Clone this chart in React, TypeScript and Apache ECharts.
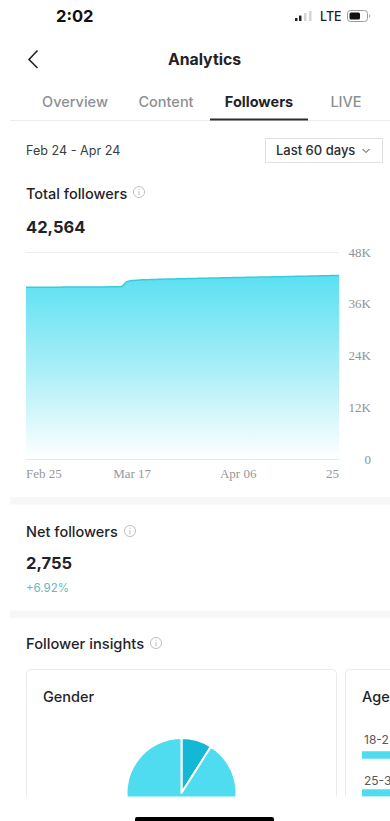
import React, { useEffect, useRef } from "react";
import * as echarts from "echarts";

const dayLabels = [
  "Feb 25", "Feb 26", "Feb 27", "Feb 28", "Mar 01", "Mar 02", "Mar 03", "Mar 04", "Mar 05", "Mar 06",
  "Mar 07", "Mar 08", "Mar 09", "Mar 10", "Mar 11", "Mar 12", "Mar 13", "Mar 14", "Mar 15", "Mar 16",
  "Mar 17", "Mar 18", "Mar 19", "Mar 20", "Mar 21", "Mar 22", "Mar 23", "Mar 24", "Mar 25", "Mar 26",
  "Mar 27", "Mar 28", "Mar 29", "Mar 30", "Mar 31", "Apr 01", "Apr 02", "Apr 03", "Apr 04", "Apr 05",
  "Apr 06", "Apr 07", "Apr 08", "Apr 09", "Apr 10", "Apr 11", "Apr 12", "Apr 13", "Apr 14", "Apr 15",
  "Apr 16", "Apr 17", "Apr 18", "Apr 19", "Apr 20", "Apr 21", "Apr 22", "Apr 23", "Apr 24", "Apr 25",
];

const totalFollowers = [
  39809, 39815, 39822, 39830, 39836, 39842, 39850, 39856, 39864, 39870,
  39878, 39884, 39890, 39897, 39905, 39912, 39920, 39930, 39990, 41150,
  41380, 41470, 41540, 41590, 41630, 41670, 41700, 41730, 41760, 41790,
  41820, 41850, 41875, 41900, 41930, 41955, 41985, 42010, 42035, 42060,
  42085, 42110, 42130, 42155, 42180, 42200, 42225, 42250, 42275, 42300,
  42325, 42350, 42375, 42400, 42425, 42450, 42480, 42510, 42540, 42564,
];

const shownDayLabels: Record<string, string> = {
  "Feb 25": "Feb 25",
  "Mar 17": "Mar 17",
  "Apr 06": "Apr 06",
  "Apr 25": "25",
};

const genderShares = [
  { name: "Female", value: 9 },
  { name: "Male", value: 91 },
];

const ageBands = ["18-2", "25-3"];
const ageShares = [44, 33];

const INK = "#1f2329";
const MUTED = "#8c8f93";
const RULE = "#ececec";
const BAND = "#f7f7f7";
const SANS = "Inter, 'Noto Sans', sans-serif";

const label = (
  text: string,
  x: number,
  y: number,
  size: number,
  weight: number,
  fill: string,
  textAlign = "left",
) => ({
  type: "text",
  z: 50,
  style: {
    text,
    x,
    y,
    fill,
    textAlign,
    textVerticalAlign: "middle",
    font: `${weight} ${size}px ${SANS}`,
  },
});

const infoIcon = (cx: number, cy: number) => ({
  type: "group",
  z: 50,
  children: [
    { type: "circle", shape: { cx, cy, r: 5.5 }, style: { fill: "none", stroke: "#b9bcbf", lineWidth: 1 } },
    { type: "line", shape: { x1: cx, y1: cy - 1, x2: cx, y2: cy + 3 }, style: { stroke: "#b9bcbf", lineWidth: 1 } },
    { type: "circle", shape: { cx, cy: cy - 2.8, r: 0.6 }, style: { fill: "#b9bcbf" } },
  ],
});

const hline = (x1: number, x2: number, y: number, stroke: string, lineWidth: number) => ({
  type: "line",
  z: 50,
  shape: { x1, y1: y, x2, y2: y },
  style: { stroke, lineWidth },
});

const rect = (x: number, y: number, width: number, height: number, style: object, r: any = 0, z = 1) => ({
  type: "rect",
  z,
  shape: { x, y, width, height, r },
  style,
});

export default function App() {
  const ref = useRef<HTMLDivElement>(null);

  useEffect(() => {
    document.body.style.margin = "0";
    document.body.style.background = "#fff";
    const chart = echarts.init(ref.current!, null, { renderer: "svg" });

    chart.setOption({
      animation: false,
      backgroundColor: "#ffffff",
      grid: [
        { left: 26, top: 252, width: 313, height: 207, containLabel: false },
        // the age bars run past the right edge of the page
        { left: 362, top: 736, width: 200, height: 76, outerBoundsMode: "none" },
      ],
      xAxis: [
        {
          type: "category",
          gridIndex: 0,
          data: dayLabels,
          boundaryGap: false,
          axisTick: { show: false },
          axisLine: { lineStyle: { color: "#e9e9e9", width: 1 } },
          axisLabel: {
            margin: 8,
            color: "#94979b",
            fontFamily: "'Liberation Serif', serif",
            fontSize: 13,
            hideOverlap: false,
            alignMinLabel: "left",
            alignMaxLabel: "right",
            interval: (_: number, value: string) => value in shownDayLabels,
            formatter: (value: string) => shownDayLabels[value] ?? "",
          },
        },
        {
          type: "value",
          gridIndex: 1,
          min: 0,
          max: 100,
          show: false,
        },
      ],
      yAxis: [
        {
          type: "value",
          gridIndex: 0,
          position: "right",
          min: 0,
          max: 48000,
          interval: 12000,
          axisLine: { show: false },
          axisTick: { show: false },
          splitLine: { lineStyle: { color: "#eeeeee", width: 1 } },
          axisLabel: {
            margin: 32,
            align: "right",
            color: "#8f9296",
            fontFamily: "'Liberation Serif', serif",
            fontSize: 13,
            formatter: (v: number) => (v === 0 ? "0" : `${v / 1000}K`),
          },
        },
        {
          type: "category",
          gridIndex: 1,
          data: ageBands,
          inverse: true,
          show: false,
        },
      ],
      series: [
        {
          type: "line",
          xAxisIndex: 0,
          yAxisIndex: 0,
          data: totalFollowers,
          smooth: 0.3,
          showSymbol: false,
          lineStyle: { color: "#38cadd", width: 1.5 },
          areaStyle: {
            opacity: 1,
            color: new echarts.graphic.LinearGradient(0, 0, 0, 1, [
              { offset: 0, color: "#5be0f2" },
              { offset: 0.5, color: "#a8eef7" },
              { offset: 1, color: "#ffffff" },
            ]),
          },
        },
        {
          type: "pie",
          center: [181.5, 793],
          radius: [0, 55],
          startAngle: 90,
          silent: true,
          label: { show: false },
          labelLine: { show: false },
          itemStyle: { borderColor: "#ffffff", borderWidth: 2 },
          data: [
            { ...genderShares[0], itemStyle: { color: "#14b7d4" } },
            { ...genderShares[1], itemStyle: { color: "#4fdcf0" } },
          ],
        },
        {
          type: "bar",
          xAxisIndex: 1,
          yAxisIndex: 1,
          data: ageShares,
          barWidth: 7.5,
          itemStyle: { color: "#4fdcf0" },
        },
      ],
      graphic: [
        // status bar
        label("2:02", 56, 16, 16.5, 700, "#111111"),
        rect(295, 18, 2.5, 3, { fill: "#222" }, 0.5),
        rect(299, 15.5, 2.5, 5.5, { fill: "#222" }, 0.5),
        rect(304, 13, 2.5, 8, { fill: "#d5d5d5" }, 0.5),
        rect(309, 11, 2.5, 10, { fill: "#d5d5d5" }, 0.5),
        label("LTE", 320, 16, 12.5, 500, "#222222"),
        rect(347.5, 10.5, 20, 11, { fill: "none", stroke: "#9a9a9a", lineWidth: 1 }, 3),
        rect(349.5, 12.5, 10.5, 7, { fill: "#111" }, 1.5),
        rect(369, 14.5, 1.2, 3, { fill: "#aaa" }, 0.5),

        // title row
        {
          type: "polyline",
          z: 50,
          shape: { points: [[37.5, 50.5], [29, 59.5], [37.5, 68]] },
          style: { fill: "none", stroke: "#222", lineWidth: 1.6 },
        },
        label("Analytics", 204.5, 59, 15.8, 700, INK, "center"),

        // tabs
        label("Overview", 75, 101, 14.5, 500, MUTED, "center"),
        label("Content", 166, 101, 14.5, 500, MUTED, "center"),
        label("Followers", 259, 101, 14.5, 700, INK, "center"),
        label("LIVE", 346, 101, 14.5, 500, MUTED, "center"),
        hline(10, 390, 120.5, RULE, 1),
        hline(210, 308, 119.5, "#2a2e33", 2),

        // date range row
        label("Feb 24 - Apr 24", 26, 150, 12.6, 400, "#3a3d41"),
        rect(265.5, 138.5, 117, 24, { fill: "#fff", stroke: "#e0e0e0", lineWidth: 1 }),
        label("Last 60 days", 276, 150, 13, 500, "#2a2d31"),
        {
          type: "polyline",
          z: 50,
          shape: { points: [[362.5, 149], [366, 152.5], [369.5, 149]] },
          style: { fill: "none", stroke: "#444", lineWidth: 1 },
        },

        // total followers
        label("Total followers", 26, 193, 14.5, 500, INK),
        infoIcon(139, 192),
        label("42,564", 26, 227, 16.5, 700, INK),

        // net followers
        rect(10, 497, 380, 7.5, { fill: BAND }),
        label("Net followers", 26, 531, 14.5, 500, INK),
        infoIcon(130, 531),
        label("2,755", 26, 563, 16.5, 700, INK),
        label("+6.92%", 26, 588, 11.5, 400, "#67b8c1"),
        rect(10, 610.5, 380, 7.5, { fill: BAND }),

        // follower insights
        label("Follower insights", 26, 644, 14.7, 500, INK),
        infoIcon(156, 643),
        rect(26.5, 669.5, 310, 160, { fill: "none", stroke: "#ebebeb", lineWidth: 1 }, 4),
        rect(345.5, 669.5, 80, 160, { fill: "none", stroke: "#ebebeb", lineWidth: 1 }, 4),
        label("Gender", 43, 696, 14.5, 500, INK),
        label("Age", 362, 696, 14.5, 500, INK),
        label(ageBands[0], 364, 739, 12, 400, "#55585c"),
        label(ageBands[1], 364, 780, 12, 400, "#55585c"),

        // bottom edge of the scroll area and home indicator
        rect(0, 796.5, 390, 25, { fill: "#ffffff" }, 0, 90),
        rect(135, 817, 139, 4, { fill: "#000000" }, [2, 2, 0, 0], 91),
      ],
    });

    return () => chart.dispose();
  }, []);

  return (
    <div
      ref={ref}
      style={{ position: "absolute", left: 0, top: 0, width: 390, height: 821, overflow: "hidden" }}
    />
  );
}
